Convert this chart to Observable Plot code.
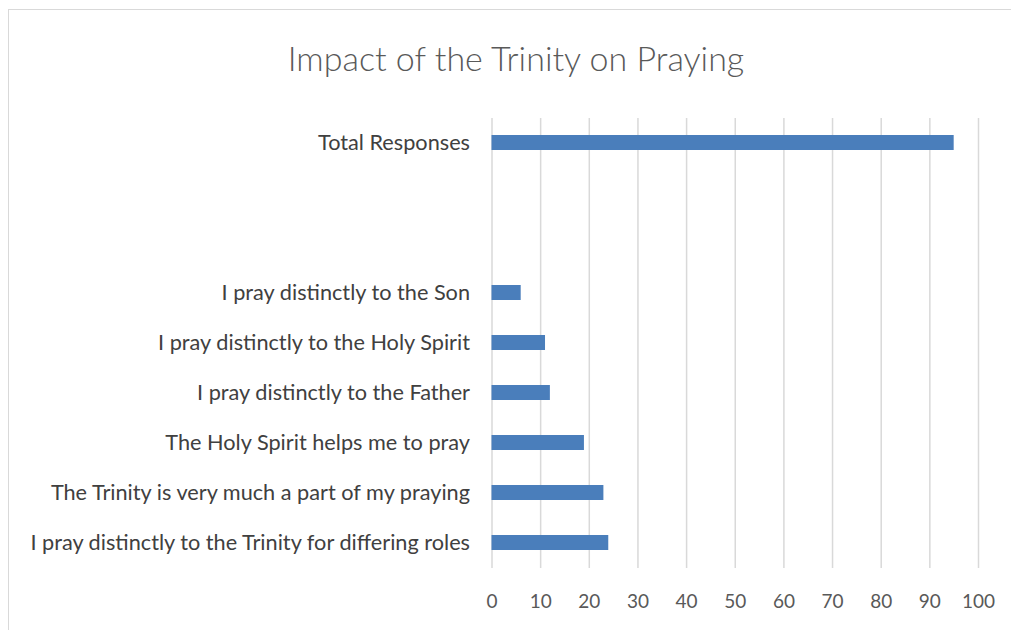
<!DOCTYPE html>
<html>
<head>
<meta charset="utf-8">
<script src="https://cdn.jsdelivr.net/npm/d3@7"></script>
<script src="https://cdn.jsdelivr.net/npm/@observablehq/plot@0.6"></script>
<style>
  html, body { margin: 0; padding: 0; background: #fff; }
  body { width: 1011px; height: 630px; position: relative; overflow: hidden; font-family: "Lato", sans-serif; }
  #frame { position: absolute; left: 8px; top: 9px; width: 1100px; height: 700px;
           border-left: 1.5px solid #d9d9d9; border-top: 1.5px solid #d9d9d9; z-index: 10; pointer-events: none; }
  #title { height: 110px; box-sizing: border-box; padding-top: 37px; text-align: center; padding-left: 21px;
           font-size: 34px; color: #595959; font-weight: 300; line-height: 42px; }
  #chart svg { display: block; }
</style>
</head>
<body>
<div id="frame"></div>
<div id="title">Impact of the Trinity on Praying</div>
<div id="chart"></div>
<script>
const categories = [
  "Total Responses",
  "__blank1",
  "__blank2",
  "I pray distinctly to the Son",
  "I pray distinctly to the Holy Spirit",
  "I pray distinctly to the Father",
  "The Holy Spirit helps me to pray",
  "The Trinity is very much a part of my praying",
  "I pray distinctly to the Trinity for differing roles"
];
const values = [95, null, null, 6, 11, 12, 19, 23, 24];
const xTicks = [0, 10, 20, 30, 40, 50, 60, 70, 80, 90, 100];

const data = categories
  .map((category, i) => ({category, value: values[i]}))
  .filter(d => d.value != null);

const chart = Plot.plot({
  width: 1011,
  height: 520,
  marginLeft: 491.5,
  marginRight: 33,
  marginTop: 8,
  marginBottom: 62,
  style: {fontFamily: "Lato, sans-serif", background: "transparent"},
  x: {domain: [0, 100], label: null},
  y: {domain: categories, paddingInner: 0.7, paddingOuter: 0.35, label: null},
  marks: [
    Plot.gridX(xTicks, {stroke: "#d9d9d9", strokeOpacity: 1, strokeWidth: 1.5}),
    Plot.barX(data, {x: "value", y: "category", fill: "#4a7ebb"}),
    Plot.axisX(xTicks, {tickSize: 0, tickPadding: 26, fontSize: 19, color: "#595959", label: null}),
    Plot.axisY({tickSize: 0, tickPadding: 22, fontSize: 21.7, color: "#404040", label: null,
      tickFormat: d => d.startsWith("__") ? "" : d})
  ]
});
document.getElementById("chart").appendChild(chart);
</script>
</body>
</html>
